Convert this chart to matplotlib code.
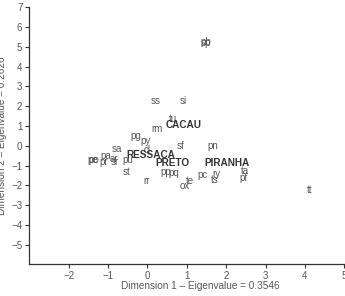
import matplotlib
matplotlib.use("Agg")
import matplotlib.pyplot as plt

plt.rcParams['font.family'] = ['Liberation Sans', 'DejaVu Sans']

# species (row) coordinates
sp_names = ['sp', 'pb', 'ss', 'si', 'tu', 'rm', 'pg', 'py', 'sa', 'cl', 'sf', 'pn',
            'pe', 'po', 'pa', 'pr', 'ar', 'sr', 'pu', 'st', 'rr', 'pp', 'pq', 'te',
            'ox', 'pc', 'ry', 'ts', 'ta', 'pf', 'tt']
sp_x = [1.48, 1.49, 0.20, 0.92, 0.65, 0.25, -0.30, -0.06, -0.77, -0.01, 0.83, 1.66,
        -1.38, -1.37, -1.06, -1.10, -0.85, -0.84, -0.50, -0.52, -0.03, 0.47, 0.67, 1.08,
        0.95, 1.40, 1.76, 1.72, 2.48, 2.43, 4.13]
sp_y = [5.18, 5.24, 2.28, 2.27, 1.36, 0.83, 0.49, 0.25, -0.15, -0.20, 0.00, 0.00,
        -0.73, -0.71, -0.52, -0.83, -0.68, -0.80, -0.73, -1.34, -1.78, -1.34, -1.40, -1.76,
        -2.03, -1.49, -1.42, -1.71, -1.28, -1.61, -2.25]

# site (column) coordinates
site_names = ['CACAU', 'RESSACA', 'PRETO', 'PIRANHA']
site_x = [0.92, 0.09, 0.64, 2.01]
site_y = [1.07, -0.47, -0.86, -0.86]

fig = plt.figure(figsize=(3.45, 2.96), dpi=100)
ax = fig.add_axes([0.085, 0.107, 0.913, 0.868])

for n, x, y in zip(sp_names, sp_x, sp_y):
    ax.text(x, y, n, fontsize=7, color='#555555', ha='center', va='center')
for n, x, y in zip(site_names, site_x, site_y):
    ax.text(x, y, n, fontsize=7.2, color='#333333', ha='center', va='center',
            fontweight='bold')

ax.set_xlim(-3, 5)
ax.set_ylim(-6, 7)
ax.set_xticks(range(-2, 6))
ax.set_yticks(range(-5, 8))
for s in ['top', 'right']:
    ax.spines[s].set_visible(False)
for s in ['left', 'bottom']:
    ax.spines[s].set_color('#333333')
    ax.spines[s].set_linewidth(0.9)
ax.tick_params(direction='out', length=3, width=0.8, color='#333333',
               labelsize=7, labelcolor='#555555', pad=2)

ax.set_xlabel('Dimension 1 \u2013 Eigenvalue = 0.3546', fontsize=7.2, color='#555555')
ax.set_ylabel('Dimension 2 \u2013 Eigenvalue = 0.2626', fontsize=7.2, color='#555555')
ax.xaxis.set_label_coords(0.542, -0.065)
ax.yaxis.set_label_coords(-0.07, 0.5)

fig.savefig('out.png', dpi=100)
